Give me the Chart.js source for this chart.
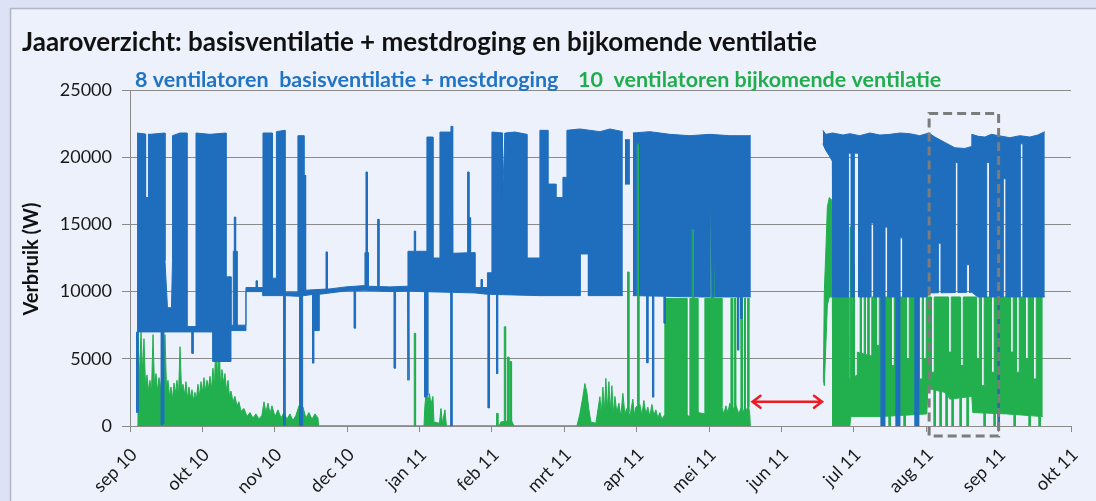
<!DOCTYPE html>
<html>
<head>
<meta charset="utf-8">
<script src="https://cdn.jsdelivr.net/npm/chart.js@4.4.1/dist/chart.umd.min.js"></script>
<style>
  html, body { margin: 0; padding: 0; background: #dde2f5; }
  #wrap { width: 1096px; height: 501px; }
</style>
</head>
<body>
<div id="wrap"><canvas id="jaarChart" width="1096" height="501"></canvas></div>
<script>
// x = month index (0 = sep 10, 13 = okt 11), y = Verbruik (W)
const monthLabels = ['sep 10', 'okt 10', 'nov 10', 'dec 10', 'jan 11', 'feb 11', 'mrt 11',
    'apr 11', 'mei 11', 'jun 11', 'jul 11', 'aug 11', 'sep 11', 'okt 11'];

// 8 ventilatoren basisventilatie + mestdroging: top and bottom of the oscillating band
const blueUpper = [
    [0.097, 21800], [0.276, 21700], [0.483, 21800], [0.483, 12300], [0.518, 8800], [0.573, 8800],
    [0.587, 12300], [0.587, 21600], [0.691, 21800], [0.787, 21800], [0.787, 7400], [0.912, 7400],
    [0.912, 21800], [1.105, 21700], [1.326, 21800], [1.326, 11100], [1.395, 11100], [1.395, 7500],
    [1.427, 7500], [1.427, 13000], [1.478, 13000], [1.478, 7500], [1.602, 7500], [1.602, 10300],
    [1.837, 10300], [1.837, 21800], [1.968, 21800], [1.968, 11000], [2.023, 11000], [2.023, 21900],
    [2.141, 22000], [2.141, 9950], [2.320, 9950], [2.320, 21600], [2.403, 21600], [2.403, 10100],
    [2.762, 10200], [2.983, 10350], [3.246, 10450], [3.246, 12900], [3.291, 12900], [3.291, 10400],
    [3.591, 10350], [3.840, 10400], [3.840, 13000], [4.102, 13000], [4.102, 21500], [4.185, 21500],
    [4.185, 12500], [4.282, 12500], [4.282, 21870], [4.461, 21870], [4.461, 12850], [4.765, 12900],
    [4.765, 10300], [4.938, 10300], [4.938, 11400], [5.000, 11400], [5.000, 21870], [5.180, 21800],
    [5.318, 21870], [5.483, 21700], [5.483, 12500], [5.663, 12500], [5.663, 22000], [5.773, 22000],
    [5.773, 18000], [5.884, 18000], [5.884, 17000], [5.981, 17000], [5.981, 18500], [6.036, 18500],
    [6.036, 22000], [6.215, 22100], [6.492, 21900], [6.630, 22100], [6.809, 21900], [6.816, null],
    [6.837, 21300], [6.906, 21300], [6.913, null], [6.947, 21800], [7.182, 21900], [7.458, 21700],
    [7.735, 21600], [8.011, 21700], [8.287, 21600], [8.577, 21600], [8.591, null],
    [9.572, 22000], [9.613, 21700], [9.710, 21800], [9.850, 21650], [9.945, 21750], [10.080, 21600],
    [10.221, 21800], [10.360, 21650], [10.497, 21700], [10.640, 21800], [10.773, 21750], [10.910, 21600],
    [11.036, 21800], [11.119, 21500], [11.257, 21100], [11.395, 20700], [11.533, 20650],
    [11.630, 20800], [11.630, 21700], [11.720, 21550], [11.809, 21500], [11.900, 21700], [12.003, 21600],
    [12.155, 21450], [12.293, 21600], [12.431, 21500], [12.540, 21650], [12.638, 21900]
];
const blueLower = [
    [0.097, 7000], [0.787, 7000], [1.146, 7000], [1.146, 4800], [1.395, 4800], [1.395, 7100],
    [1.602, 7100], [1.602, 10000], [1.837, 10000], [1.837, 9700], [2.141, 9700], [2.141, 9650],
    [2.320, 9650], [2.548, 9800], [2.548, 7100], [2.615, 7100], [2.615, 9800], [2.983, 10050],
    [3.246, 10100], [3.591, 10000], [3.840, 10050], [4.033, 10000], [4.765, 9900], [4.938, 9800],
    [5.663, 9700], [6.222, 9700], [6.222, 12800], [6.333, 12800], [6.333, 9700], [6.809, 9700],
    [6.816, null], [6.837, 18000], [6.906, 18000], [6.913, null], [6.947, 9700], [7.873, 9600],
    [8.577, 9600], [8.591, null],
    [9.572, 21000], [9.613, 20500], [9.662, 20100], [9.703, 19700], [9.710, 9600], [11.008, 9600],
    [11.050, 9900], [11.630, 9950], [11.713, 9600], [12.638, 9600]
];
// short excursions of the blue band: [month, W, optional half width]
const blueUpperCuts = [
    [0.235, 17000, 0.02], [1.450, 15550], [1.750, 10800], [2.417, 18650], [2.717, 12950], [3.269, 18900],
    [3.430, 15380], [3.936, 14500], [4.443, 22300], [4.673, 18900], [4.696, 15500], [4.858, 10900],
    [5.166, 17000, 0.02]
];
const blueLowerCuts = [
    [0.104, 1000], [0.442, 100], [0.460, 200], [0.866, 5400], [2.134, 50], [2.355, 0], [2.376, 0],
    [2.532, 4680], [3.108, 7280], [3.660, 4300], [3.847, 3400], [4.081, 2150], [4.109, 2300],
    [4.443, 0], [4.958, 1340], [5.073, 3900], [7.021, 21000, 0.02], [7.150, 4700], [7.228, 2150],
    [7.389, 7650], [7.780, 14600, 0.02], [8.034, 17900, 0.02], [8.066, 13800, 0.02], [8.402, 5650], [8.449, 8000],
    [9.945, 20300, 0.02], [10.037, 20300, 0.03], [10.258, 15100, 0.02], [10.387, 0], [10.421, 0],
    [10.451, 14800, 0.02], [10.594, 0], [10.628, 0], [10.659, 14000, 0.02], [10.856, 0], [10.890, 0],
    [11.188, 13600, 0.02], [11.422, 19600, 0.02], [11.578, 12000, 0.02], [11.855, 19600, 0.02],
    [12.003, 0], [12.085, 18400, 0.02], [12.320, 21000, 0.02]
];

// 10 ventilatoren bijkomende ventilatie
const greenUpper = [
    [0.104, 0], [0.110, 7000], [0.131, 3500], [0.152, 7000], [0.173, 4000], [0.193, 6500],
    [0.214, 3000], [0.235, 3800], [0.256, 2600], [0.276, 3400], [0.297, 2500], [0.318, 6800],
    [0.338, 3000], [0.359, 3900], [0.380, 2600], [0.401, 3600], [0.421, 2800], [0.442, 3900],
    [0.463, 2500], [0.483, 6800], [0.504, 2900], [0.525, 3400], [0.546, 2200], [0.566, 2900],
    [0.587, 2000], [0.608, 3200], [0.628, 2400], [0.649, 3400], [0.670, 2200], [0.691, 5900],
    [0.712, 2600], [0.732, 3100], [0.753, 2300], [0.773, 3300], [0.794, 2000], [0.815, 2900],
    [0.836, 2100], [0.856, 2700], [0.877, 1900], [0.898, 2500], [0.918, 2000], [0.939, 3100],
    [0.960, 2200], [0.981, 3300], [1.001, 2500], [1.022, 3600], [1.043, 2600], [1.064, 3400],
    [1.084, 2800], [1.105, 3700], [1.126, 2700], [1.146, 4300], [1.167, 2900], [1.188, 7000],
    [1.209, 3200], [1.229, 6800], [1.250, 3000], [1.271, 4200], [1.291, 3200], [1.312, 3900],
    [1.333, 2600], [1.354, 3400], [1.374, 2200], [1.395, 2600], [1.423, 1800], [1.450, 2200],
    [1.478, 1500], [1.505, 1800], [1.533, 1100], [1.575, 1300], [1.616, 700], [1.657, 1000],
    [1.699, 600], [1.740, 900], [1.782, 500], [1.823, 800], [1.851, 1800], [1.878, 1000],
    [1.906, 1700], [1.934, 900], [1.961, 1500], [2.003, 700], [2.044, 1200], [2.086, 600],
    [2.127, 1000], [2.168, 500], [2.210, 900], [2.251, 400], [2.293, 800], [2.334, 1500],
    [2.362, 700], [2.389, 1400], [2.431, 600], [2.472, 1000], [2.514, 500], [2.555, 900],
    [2.597, 600], [2.604, 0], [4.061, 0], [4.074, 1500], [4.095, 2700], [4.116, 1800],
    [4.137, 2400], [4.157, 1600], [4.185, 2200], [4.199, 300], [4.275, 200], [4.296, 1300],
    [4.316, 200], [4.351, 1200], [4.371, 0], [5.097, 0], [5.124, 300], [5.276, 400], [5.304, 0],
    [6.174, 0], [6.215, 900], [6.257, 2200], [6.284, 3160], [6.312, 2500], [6.340, 1200],
    [6.367, 300], [6.436, 200], [6.464, 1200], [6.492, 2180], [6.512, 900], [6.533, 2900],
    [6.554, 1000], [6.574, 3540], [6.595, 1200], [6.616, 3300], [6.637, 1100], [6.657, 3000],
    [6.678, 900], [6.699, 2200], [6.726, 1000], [6.754, 1700], [6.781, 700], [6.809, 2430],
    [6.837, 900], [6.864, 1300], [6.906, 700], [6.947, 2000], [6.968, 800], [6.989, 1400],
    [7.044, 1600], [7.072, 800], [7.099, 1900], [7.127, 900], [7.154, 1400], [7.182, 700],
    [7.210, 1600], [7.237, 800], [7.265, 1200], [7.292, 600], [7.320, 1000], [7.348, 500],
    [7.382, 800], [7.389, 9500], [7.693, 9500], [7.693, 800], [7.735, 700], [7.735, 9500],
    [7.845, 9500], [7.845, 1000], [7.942, 900], [7.942, 9500], [8.177, 9500], [8.177, 1400],
    [8.204, 900], [8.232, 1500], [8.260, 1000], [8.287, 1700], [8.329, 1100], [8.370, 1600],
    [8.411, 900], [8.453, 1400], [8.494, 1000], [8.536, 1500], [8.563, 800], [8.570, 0],
    [8.591, null],
    [9.579, 3400], [9.592, 10000], [9.613, 13000], [9.634, 16300], [9.661, 17000], [9.696, 16800],
    [9.710, 9600], [9.931, 9600], [9.931, 3500], [10.048, 3800], [10.048, 5500], [10.248, 5200],
    [10.248, 9600], [12.610, 9600]
];
const greenLower = [
    [0.104, 0], [8.570, 0], [8.591, null],
    [9.579, 3400], [9.592, 3000], [9.613, 6000], [9.634, 9000], [9.661, 9600], [9.703, 9600],
    [9.710, 0], [9.945, 0], [9.958, 700], [10.359, 700], [11.008, 900], [11.022, 2800],
    [11.257, 2500], [11.326, 2000], [11.630, 2200], [11.643, 1000], [12.113, 900], [12.610, 700]
];
const greenUpperCuts = [
    [3.936, 6900], [5.073, 940], [5.180, 7380], [5.225, 5130], [5.258, 4790], [6.883, 11460],
    [7.021, 21000], [7.780, 14540], [8.034, 17780], [8.066, 13700], [8.311, 9500], [8.356, 9500],
    [8.449, 9500], [8.494, 9500], [8.540, 9500], [9.958, 14800], [9.985, 9600], [10.000, 12000],
    [10.096, 9600], [10.152, 9600], [10.200, 9600],
    [10.331, 6000, 0.02], [10.538, 4500, 0.02], [10.745, 5000, 0.02], [10.925, 3500, 0.02],
    [10.980, 5000, 0.02], [11.091, 4000, 0.02], [11.326, 5500, 0.02], [11.491, 4500, 0.02],
    [11.713, 5000, 0.02], [11.781, 3000, 0.02], [11.919, 4000, 0.02], [12.182, 5500, 0.02],
    [12.265, 4000, 0.02], [12.389, 5000, 0.02], [12.500, 3500, 0.02]
];
const greenLowerCuts = [
    [10.497, 0], [10.704, 0], [11.119, 0], [11.201, 0], [11.284, 0], [11.367, 0], [11.478, 0],
    [11.574, 0], [11.809, 0], [11.947, 0], [12.224, 0], [12.431, 0], [12.569, 0]
];

// annotations, in data units
const gapArrow = { from: 8.60, to: 9.56, y: 1800 };
const focusBox = { x0: 11.04, x1: 12.0, yTop: 23250, yBottom: -750 };

const BLUE = '#1f6ebe';
const GREEN = '#22b04e';

// turn base points + short excursions into one point list
function buildLine(base, cuts) {
    const pts = base.map(p => ({ x: p[0], y: p[1] }));
    cuts.forEach(c => {
        const hw = c[2] || 0.009;
        let by = null;
        for (let i = 0; i < base.length - 1; i++) {
            const a = base[i], b = base[i + 1];
            if (a[1] === null || b[1] === null) continue;
            if (c[0] >= a[0] && c[0] <= b[0] && b[0] > a[0]) {
                by = a[1] + (b[1] - a[1]) * (c[0] - a[0]) / (b[0] - a[0]);
                break;
            }
        }
        if (by === null) return;
        pts.push({ x: c[0] - hw, y: by }, { x: c[0] - hw, y: c[1] },
                 { x: c[0] + hw, y: c[1] }, { x: c[0] + hw, y: by });
    });
    return pts.sort((p, q) => p.x - q.x);
}

const decor = {
    id: 'decor',
    beforeDraw(chart) {
        const ctx = chart.ctx;
        ctx.save();
        ctx.fillStyle = '#dde2f5';
        ctx.fillRect(0, 0, chart.width, chart.height);
        ctx.fillStyle = '#edf1fb';
        ctx.fillRect(10.5, 8.5, chart.width, chart.height);
        ctx.strokeStyle = '#b2b6c4';
        ctx.lineWidth = 1.5;
        ctx.strokeRect(10.5, 8.5, chart.width, chart.height);
        ctx.restore();
    },
    afterDatasetsDraw(chart) {
        const ctx = chart.ctx;
        const xs = chart.scales.x, ys = chart.scales.y;
        // red double arrow over the data gap
        const ax0 = xs.getPixelForValue(gapArrow.from);
        const ax1 = xs.getPixelForValue(gapArrow.to);
        const ay = ys.getPixelForValue(gapArrow.y);
        ctx.save();
        ctx.strokeStyle = '#ec1c24';
        ctx.lineWidth = 2.5;
        ctx.lineCap = 'round';
        ctx.beginPath();
        ctx.moveTo(ax0, ay); ctx.lineTo(ax1, ay);
        ctx.moveTo(ax0 + 8, ay - 6); ctx.lineTo(ax0, ay); ctx.lineTo(ax0 + 8, ay + 6);
        ctx.moveTo(ax1 - 8, ay - 6); ctx.lineTo(ax1, ay); ctx.lineTo(ax1 - 8, ay + 6);
        ctx.stroke();
        // dashed box
        const bx0 = xs.getPixelForValue(focusBox.x0);
        const bx1 = xs.getPixelForValue(focusBox.x1);
        const by0 = ys.getPixelForValue(focusBox.yTop);
        const by1 = ys.getPixelForValue(focusBox.yBottom);
        ctx.strokeStyle = '#7c7c7c';
        ctx.lineWidth = 3;
        ctx.lineCap = 'butt';
        ctx.setLineDash([9, 5]);
        ctx.strokeRect(bx0, by0, bx1 - bx0, by1 - by0);
        ctx.restore();
    },
    afterDraw(chart) {
        const ctx = chart.ctx;
        ctx.save();
        ctx.textBaseline = 'alphabetic';
        ctx.textAlign = 'left';
        ctx.fillStyle = '#111';
        ctx.font = 'bold 26px Lato';
        ctx.fillText('Jaaroverzicht: basisventilatie + mestdroging en bijkomende ventilatie', 22, 51);
        ctx.font = 'bold 21.5px Lato';
        ctx.fillStyle = '#2074c4';
        ctx.fillText('8 ventilatoren  basisventilatie + mestdroging', 135, 87);
        ctx.fillStyle = '#21ad4d';
        ctx.fillText('10  ventilatoren bijkomende ventilatie', 578, 87);
        ctx.translate(32, 259);
        ctx.rotate(-Math.PI / 2);
        ctx.textAlign = 'center';
        ctx.textBaseline = 'middle';
        ctx.fillStyle = '#111';
        ctx.font = 'bold 20px Lato';
        ctx.fillText('Verbruik (W)', 0, 0);
        ctx.restore();
    }
};

document.addEventListener('DOMContentLoaded', function() {
    const ctx = document.getElementById('jaarChart');
    new Chart(ctx, {
        type: 'line',
        data: {
            datasets: [{
                label: '8 ventilatoren basisventilatie + mestdroging',
                data: buildLine(blueUpper, blueUpperCuts),
                borderColor: BLUE,
                backgroundColor: BLUE,
                borderWidth: 1,
                pointRadius: 0,
                fill: '+1'
            }, {
                label: 'blue bottom',
                data: buildLine(blueLower, blueLowerCuts),
                borderColor: BLUE,
                borderWidth: 1,
                pointRadius: 0,
                fill: false
            }, {
                label: '10 ventilatoren bijkomende ventilatie',
                data: buildLine(greenUpper, greenUpperCuts),
                borderColor: GREEN,
                backgroundColor: GREEN,
                borderWidth: 1,
                pointRadius: 0,
                fill: '+1'
            }, {
                label: 'green bottom',
                data: buildLine(greenLower, greenLowerCuts),
                borderColor: GREEN,
                borderWidth: 1,
                pointRadius: 0,
                fill: false
            }]
        },
        options: {
            responsive: false,
            animation: false,
            devicePixelRatio: 1,
            layout: { padding: { top: 90, right: 25, left: 0, bottom: 0 } },
            elements: { line: { tension: 0 } },
            plugins: {
                legend: { display: false },
                tooltip: { enabled: false }
            },
            scales: {
                x: {
                    type: 'linear',
                    min: 0,
                    max: 13,
                    afterFit: function(scale) {
                        scale.height = 75;
                        scale.paddingLeft = 0;
                        scale.paddingRight = 0;
                    },
                    afterBuildTicks: function(scale) {
                        scale.ticks = monthLabels.map((m, i) => ({ value: i }));
                    },
                    ticks: {
                        autoSkip: false,
                        maxRotation: 45,
                        minRotation: 45,
                        padding: 12,
                        labelOffset: 4,
                        color: '#1a1a1a',
                        font: { family: 'Lato', size: 18 },
                        callback: function(value) { return monthLabels[value]; }
                    },
                    grid: { drawOnChartArea: false, drawTicks: true, tickLength: 6, color: '#8a8a8a' },
                    border: { display: true, color: '#8a8a8a' }
                },
                y: {
                    min: 0,
                    max: 25000,
                    afterFit: function(scale) { scale.width = 130; },
                    ticks: {
                        stepSize: 5000,
                        padding: 10,
                        color: '#1a1a1a',
                        font: { family: 'Lato', size: 18 },
                        callback: function(value) { return String(value); }
                    },
                    grid: { color: '#8a8a8a', tickLength: 8 },
                    border: { display: true, color: '#8a8a8a' }
                }
            }
        },
        plugins: [decor]
    });
});
</script>
</body>
</html>
